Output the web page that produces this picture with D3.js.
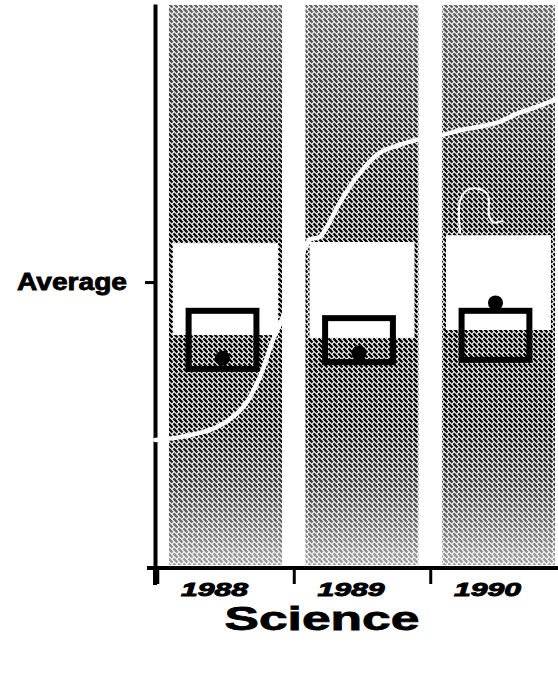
<!DOCTYPE html>
<html>
<head>
<meta charset="utf-8">
<script src="https://cdn.jsdelivr.net/npm/d3@7"></script>
<style>
  html, body { margin: 0; padding: 0; background: #fff; }
  svg { display: block; }
</style>
</head>
<body>
<div id="chart"></div>
<script>
// ---------- data ----------
const categories   = ["1988", "1989", "1990"];
const tickLabels   = ["1988", "1989", "1990"];
const averageLevel = 50.7;                 // "Average" tick on the scale 0-100
const averageLabel = "Average";
const bandHigh     = [57.6, 57.8, 59.0];   // top of the white "average" band
const bandLow      = [41.3, 40.8, 42.2];   // bottom of the white "average" band
const boxHigh      = [45.6, 44.3, 45.6];   // top of the box
const boxLow       = [35.3, 36.5, 36.9];   // bottom of the box
const scores       = [37.2, 38.1, 47.0];   // dot
const curveYear    = [1987.485, 1987.668, 1987.938, 1988.128, 1988.252, 1988.347, 1988.412,
                      1988.617, 1988.690, 1988.836, 1988.960, 1989.128, 1989.274, 1989.398,
                      1989.588, 1989.734, 1989.982, 1990.150, 1990.274, 1990.430];
const curveValue   = [22.7, 23.2, 25.0, 28.5, 33.9, 40.4, 44.0,
                      58.2, 58.7, 64.7, 69.3, 73.6, 75.0, 75.9,
                      76.8, 77.7, 78.9, 80.7, 81.7, 83.2];
const markYear     = [1989.719, 1989.719, 1989.770, 1989.858, 1989.923, 1989.931, 1989.960, 1990.026];
const markValue    = [59.4, 65.2, 67.0, 67.2, 66.1, 62.6, 61.3, 61.5];
const title        = "Science";

// ---------- layout ----------
const W = 558, H = 674;
const svg = d3.select("#chart").append("svg").attr("width", W).attr("height", H);
const defs = svg.append("defs");

const y = d3.scaleLinear().domain([0, 100]).range([568, 4]);
const x = d3.scaleBand().domain(categories).range([157, 567])
  .paddingInner(0.172).paddingOuter(0.088);
const bw = x.bandwidth();
const xYear = d3.scaleLinear().domain([1988, 1990])
  .range([x("1988") + bw / 2, x("1990") + bw / 2]);

// stipple texture: broken diagonal strokes (top-left to bottom-right)
const T = 5;
const pat = defs.append("pattern").attr("id", "stip")
  .attr("patternUnits", "userSpaceOnUse").attr("width", T).attr("height", T);
pat.append("path")
  .attr("d", `M-1,-1L${T + 1},${T + 1}M${-1 - T},-1L1,${T + 1}M${T - 1},-1L${2 * T + 1},${T + 1}`)
  .attr("stroke", "#000").attr("stroke-width", 2.4).attr("stroke-dasharray", "5 1.2");

const grad = defs.append("linearGradient").attr("id", "dens")
  .attr("gradientUnits", "userSpaceOnUse")
  .attr("x1", 0).attr("x2", 0).attr("y1", y(100)).attr("y2", y(0));
[[0, 0.6], [0.12, 0.75], [0.3, 0.92], [0.55, 1], [0.75, 0.95], [0.86, 0.75], [0.95, 0.5], [1, 0.35]]
  .forEach(([o, v]) => grad.append("stop").attr("offset", o)
    .attr("stop-color", d3.rgb(255 * v, 255 * v, 255 * v)));
const mask = defs.append("mask").attr("id", "densMask")
  .attr("maskUnits", "userSpaceOnUse").attr("x", 0).attr("y", 0).attr("width", W).attr("height", H);
mask.append("rect").attr("x", 0).attr("y", 0).attr("width", W).attr("height", H).attr("fill", "url(#dens)");

const idx = categories.map((c, i) => i);

// bands
svg.append("g").attr("mask", "url(#densMask)")
  .selectAll("rect").data(idx).join("rect")
  .attr("x", i => x(categories[i]))
  .attr("y", y(100) + 1)
  .attr("width", bw)
  .attr("height", y(0) - y(100) - 4)
  .attr("fill", "url(#stip)");

// white average band
svg.append("g").selectAll("rect").data(idx).join("rect")
  .attr("x", i => x(categories[i]) + 4)
  .attr("y", i => y(bandHigh[i]))
  .attr("width", bw - 8)
  .attr("height", i => y(bandLow[i]) - y(bandHigh[i]))
  .attr("fill", "#fff");

// axes
const yAxis = d3.axisLeft(y).tickValues([averageLevel]).tickFormat(() => "").tickSize(10).tickSizeOuter(0);
const gy = svg.append("g").attr("transform", "translate(155,0)").call(yAxis);
gy.select(".domain").attr("stroke", "#000").attr("stroke-width", 4);
gy.selectAll(".tick line").attr("stroke", "#000").attr("stroke-width", 3);

svg.append("text")
  .attr("x", 127).attr("y", y(averageLevel) + 8)
  .attr("text-anchor", "end")
  .attr("font-family", "'Liberation Sans', Arial, sans-serif")
  .attr("font-weight", "bold").attr("font-size", 23)
  .attr("stroke", "#000").attr("stroke-width", 0.8)
  .attr("textLength", 110).attr("lengthAdjust", "spacingAndGlyphs")
  .text(averageLabel);

// x axis: ticks at band boundaries, labels under bands
const boundaryYears = categories.map((c, i) => 1987.5 + i);
const xAxisTicks = d3.axisBottom(xYear).tickValues(boundaryYears).tickFormat(() => "")
  .tickSize(16).tickSizeOuter(0);
const gx = svg.append("g").attr("transform", `translate(0,${y(0)})`).call(xAxisTicks);
gx.select(".domain").remove();
gx.selectAll(".tick line").attr("stroke", "#000").attr("stroke-width", 3);
svg.append("line").attr("x1", 147).attr("x2", W).attr("y1", y(0)).attr("y2", y(0))
  .attr("stroke", "#000").attr("stroke-width", 4);
svg.append("line").attr("x1", 155).attr("x2", 155).attr("y1", y(0)).attr("y2", y(0) + 17)
  .attr("stroke", "#000").attr("stroke-width", 4);

const labelAxis = d3.axisBottom(x).tickFormat((d, i) => tickLabels[i]).tickSize(0);
const gl = svg.append("g").attr("transform", `translate(0,${y(0)})`).call(labelAxis);
gl.select(".domain").remove();
gl.selectAll(".tick text")
  .attr("y", 0).attr("dy", 28).attr("dx", -11)
  .attr("font-family", "'Liberation Sans', Arial, sans-serif")
  .attr("font-weight", "bold").attr("font-style", "italic").attr("font-size", 19)
  .attr("fill", "#000").attr("stroke", "#000").attr("stroke-width", 0.9)
  .attr("textLength", 67).attr("lengthAdjust", "spacingAndGlyphs");

// white curve (crosses everything)
const line = d3.line().x(d => xYear(d[0])).y(d => y(d[1])).curve(d3.curveCatmullRom.alpha(0.5));
svg.append("path")
  .datum(curveYear.map((v, i) => [v, curveValue[i]]))
  .attr("d", line).attr("fill", "none").attr("stroke", "#fff")
  .attr("stroke-width", 4.5).attr("stroke-linecap", "round");
svg.append("path")
  .datum(markYear.map((v, i) => [v, markValue[i]]))
  .attr("d", line).attr("fill", "none").attr("stroke", "#fff")
  .attr("stroke-width", 2).attr("stroke-linecap", "round");

// boxes
const boxW = bw * 0.6;
svg.append("g").selectAll("rect").data(idx).join("rect")
  .attr("x", i => x(categories[i]) + bw / 2 - 3 - boxW / 2)
  .attr("y", i => y(boxHigh[i]))
  .attr("width", boxW)
  .attr("height", i => y(boxLow[i]) - y(boxHigh[i]))
  .attr("fill", "none").attr("stroke", "#000").attr("stroke-width", 6);

// dots
svg.append("g").selectAll("circle").data(idx).join("circle")
  .attr("cx", i => x(categories[i]) + bw / 2 - 3)
  .attr("cy", i => y(scores[i]))
  .attr("r", 7.5).attr("fill", "#000");

// title
svg.append("text")
  .attr("x", 322).attr("y", 630)
  .attr("text-anchor", "middle")
  .attr("font-family", "'Liberation Sans', Arial, sans-serif")
  .attr("font-weight", "bold").attr("font-size", 34)
  .attr("stroke", "#000").attr("stroke-width", 0.8)
  .attr("textLength", 195).attr("lengthAdjust", "spacingAndGlyphs")
  .text(title);
</script>
</body>
</html>
